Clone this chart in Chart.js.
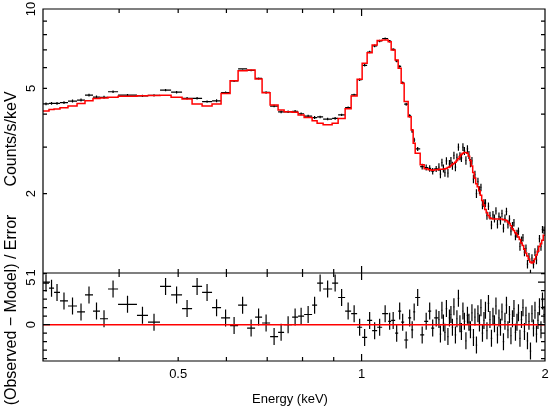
<!DOCTYPE html>
<html>
<head>
<meta charset="utf-8">
<title>Spectrum fit</title>
<script src="https://cdn.jsdelivr.net/npm/chart.js@4.4.1/dist/chart.umd.min.js"></script>
<style>
    html, body { margin: 0; padding: 0; background: #fff; }
    canvas { display: block; }
</style>
</head>
<body>
<canvas id="specChart" width="550" height="409"></canvas>
<script>
const ENERGY_MIN = 0.3;
const ENERGY_MAX = 2.0;

// channel edges (keV)
const binEdges = [
    0.3000, 0.3069, 0.3128, 0.3199, 0.3297, 0.3412, 0.3516, 0.3624, 0.3721, 0.3836,
    0.3984, 0.4279, 0.4461, 0.4669, 0.4868, 0.5074, 0.5270, 0.5473, 0.5683, 0.5880,
    0.6084, 0.6271, 0.6488, 0.6687, 0.6866, 0.7077, 0.7294, 0.7462, 0.7691, 0.7867,
    0.8048, 0.8295, 0.8453, 0.8647, 0.8947, 0.9152, 0.9397, 0.9613, 0.9833, 1.0021,
    1.0212, 1.0407, 1.0606, 1.0808, 1.1056, 1.1183, 1.1353, 1.1483, 1.1614, 1.1746,
    1.1925, 1.2061, 1.2153, 1.2245, 1.2479, 1.2669, 1.2862, 1.3009, 1.3157, 1.3357,
    1.3433, 1.3509, 1.3586, 1.3663, 1.3741, 1.3819, 1.3898, 1.3977, 1.4056, 1.4136,
    1.4216, 1.4297, 1.4378, 1.4460, 1.4542, 1.4625, 1.4708, 1.4792, 1.4876, 1.4961,
    1.5046, 1.5132, 1.5218, 1.5304, 1.5391, 1.5479, 1.5567, 1.5656, 1.5745, 1.5834,
    1.5924, 1.6015, 1.6106, 1.6198, 1.6290, 1.6383, 1.6476, 1.6569, 1.6664, 1.6758,
    1.6854, 1.6950, 1.7046, 1.7143, 1.7240, 1.7338, 1.7437, 1.7536, 1.7636, 1.7736,
    1.7837, 1.7938, 1.8040, 1.8143, 1.8246, 1.8350, 1.8454, 1.8559, 1.8665, 1.8771,
    1.8878, 1.8985, 1.9093, 1.9202, 1.9311, 1.9421, 1.9531, 1.9642, 1.9754, 1.9866,
    2.0000,
];

// observed rate per channel (counts/s/keV)
const counts = [
    4.37, 4.39, 4.39, 4.42, 4.48, 4.52, 4.72, 4.64, 4.63, 4.86,
    4.72, 4.69, 4.71, 4.93, 4.84, 4.59, 4.59, 4.46, 4.49, 4.82,
    5.34, 5.93, 5.85, 5.46, 4.83, 4.29, 4.08, 4.08, 4.10, 4.01,
    3.93, 3.88, 3.90, 3.83, 3.85, 3.97, 4.23, 4.73, 5.40, 6.12,
    6.87, 7.25, 7.57, 7.73, 7.55, 7.03, 6.36, 6.06, 5.25, 4.36,
    3.94, 3.45, 3.19, 2.95, 2.53, 2.51, 2.49, 2.43, 2.48,
    2.52, 2.37, 2.62, 2.49, 2.40, 2.66, 2.39, 2.59, 2.66, 2.55,
    2.79, 2.52, 2.74, 3.00, 2.77, 2.73, 3.00, 2.90, 2.67, 2.95,
    2.80, 2.61, 2.66, 2.27, 2.36, 2.00, 2.22, 2.06, 2.11, 1.81,
    1.84, 1.84, 1.65, 1.79, 1.65, 1.52, 1.66, 1.61, 1.72, 1.53,
    1.64, 1.58, 1.68, 1.48, 1.61, 1.71, 1.53, 1.60, 1.44, 1.51,
    1.55, 1.38, 1.41, 1.44, 1.26, 1.33, 1.36, 1.20, 1.24, 1.08,
    1.15, 0.99, 1.14, 1.08, 1.20, 1.12, 1.23, 1.35, 1.26, 1.46,
    1.45,
];

const countErr = [
    0.053, 0.055, 0.055, 0.057, 0.058, 0.060, 0.060, 0.062, 0.062, 0.055,
    0.042, 0.048, 0.045, 0.050, 0.050, 0.052, 0.050, 0.046, 0.060, 0.050,
    0.045, 0.040, 0.045, 0.048, 0.050, 0.045, 0.048, 0.045, 0.048, 0.048,
    0.045, 0.050, 0.045, 0.040, 0.045, 0.040, 0.045, 0.050, 0.060, 0.070,
    0.075, 0.080, 0.080, 0.075, 0.085, 0.075, 0.070, 0.065, 0.060, 0.055,
    0.055, 0.060, 0.060, 0.050, 0.065, 0.065, 0.070, 0.070, 0.065,
    0.086, 0.086, 0.086, 0.086, 0.087, 0.087, 0.088, 0.088, 0.089, 0.090,
    0.091, 0.092, 0.093, 0.095, 0.097, 0.098, 0.099, 0.100, 0.100, 0.099,
    0.097, 0.093, 0.089, 0.084, 0.080, 0.076, 0.074, 0.072, 0.069, 0.066,
    0.063, 0.061, 0.059, 0.058, 0.057, 0.056, 0.056, 0.056, 0.056, 0.056,
    0.056, 0.056, 0.056, 0.056, 0.056, 0.055, 0.055, 0.054, 0.053, 0.051,
    0.051, 0.050, 0.049, 0.048, 0.047, 0.046, 0.044, 0.043, 0.042, 0.041,
    0.040, 0.039, 0.038, 0.039, 0.040, 0.041, 0.042, 0.044, 0.045, 0.047,
    0.049,
];

// folded model per channel
const model = [
    4.11, 4.16, 4.18, 4.23, 4.29, 4.39, 4.49, 4.58, 4.60, 4.63,
    4.67, 4.69, 4.70, 4.71, 4.63, 4.56, 4.37, 4.29, 4.37, 4.79,
    5.35, 5.84, 5.87, 5.43, 4.82, 4.33, 4.14, 4.08, 4.06, 3.97,
    3.88, 3.77, 3.69, 3.64, 3.69, 3.85, 4.19, 4.68, 5.42, 6.23,
    6.83, 7.31, 7.59, 7.63, 7.52, 6.99, 6.41, 5.96, 5.23, 4.46,
    3.91, 3.48, 3.10, 2.84, 2.57, 2.48, 2.46, 2.45, 2.46,
    2.47, 2.47, 2.47, 2.47, 2.48, 2.49, 2.51, 2.52, 2.55, 2.58,
    2.60, 2.63, 2.67, 2.71, 2.76, 2.81, 2.84, 2.86, 2.86, 2.84,
    2.77, 2.67, 2.54, 2.40, 2.29, 2.18, 2.12, 2.05, 1.97, 1.88,
    1.81, 1.74, 1.69, 1.65, 1.62, 1.61, 1.60, 1.60, 1.60, 1.60,
    1.60, 1.60, 1.60, 1.59, 1.59, 1.58, 1.56, 1.54, 1.51, 1.47,
    1.45, 1.42, 1.40, 1.37, 1.34, 1.30, 1.27, 1.23, 1.19, 1.16,
    1.13, 1.10, 1.09, 1.10, 1.13, 1.17, 1.21, 1.26, 1.29, 1.33,
    1.39,
];

// (observed - model) / error
const resid = [
    4.9, 4.3, 3.8, 2.8, 2.2, 1.5, 3.5, 1.6, 0.7, 4.2,
    2.4, 1.1, 0.3, 4.5, 3.5, 1.9, 4.5, 3.8, 2.0, 0.8,
    -0.1, 2.3, -0.4, 0.9, 0.2, -1.4, -0.9, 0.0, 0.9, 1.0,
    1.2, 2.3, 4.9, 4.2, 4.9, 3.2, 1.6, 1.3, -0.3, -1.5,
    0.5, -0.7, -0.3, 1.3, 0.4, 0.5, -1.0, 1.6, 0.3, -1.8,
    0.8, -0.6, 1.5, 3.2, -1.2, 0.4, 1.6, -0.4, 0.8,
    0.6, -1.1, 1.7, 0.2, -0.9, 1.9, -1.4, 0.8, 1.2, -0.3,
    2.1, -1.2, 0.7, 3.1, 0.1, -0.8, 1.6, 0.4, -1.9, 1.1,
    0.3, -0.6, 1.4, -1.5, 0.9, -2.4, 1.3, 0.2, 2.0, -1.0,
    0.5, 1.7, -0.7, 2.5, 0.6, -1.6, 1.0, 0.1, 2.2, -1.2,
    0.8, -0.3, 1.5, -2.0, 0.4, 2.3, -0.6, 1.2, -1.3, 0.7,
    1.9, -0.9, 0.3, 1.4, -1.6, 0.6, 2.0, -0.8, 1.1, -1.9,
    0.4, -3.1, 1.3, -0.4, 1.7, -1.1, 0.5, 2.1, -0.6, 2.8,
    1.2,
];

const energyLabels = [0.5, 1, 2];
const energyMinor = [0.4, 0.6, 0.7, 0.8, 0.9];
const countLabels = [1, 2, 5, 10];
const countMinor = [2, 3, 4, 5, 6, 7, 8, 9];
const residLabels = [0, 5];
const residMinor = [-4, -3, -2, -1, 1, 2, 3, 4, 6];

const TICK_FONT = '13px "Liberation Sans", Arial, sans-serif';
const TITLE_FONT = '16px "Liberation Sans", Arial, sans-serif';

// horizontal bar over the channel + vertical error bar, split by gaps
function crossPoints(values, errs) {
    const pts = [];
    values.forEach((v, i) => {
        const lo = binEdges[i];
        const hi = binEdges[i + 1];
        const mid = Math.sqrt(lo * hi);
        const e = Array.isArray(errs) ? errs[i] : errs;
        pts.push({ x: lo, y: v }, { x: hi, y: v }, { x: mid, y: null });
        pts.push({ x: mid, y: v - e }, { x: mid, y: v + e }, { x: mid, y: null });
    });
    return pts;
}

function stepPoints(values) {
    const pts = values.map((v, i) => ({ x: binEdges[i], y: v }));
    pts.push({ x: binEdges[values.length], y: values[values.length - 1] });
    return pts;
}

function tickX(ctx, panel, px, len) {
    ctx.moveTo(px, panel.top);
    ctx.lineTo(px, panel.top + len);
    ctx.moveTo(px, panel.bottom);
    ctx.lineTo(px, panel.bottom - len);
}

function tickY(ctx, x, py, len) {
    ctx.moveTo(x.left, py);
    ctx.lineTo(x.left + len, py);
    ctx.moveTo(x.right, py);
    ctx.lineTo(x.right - len, py);
}

function vText(ctx, str, px, py) {
    ctx.save();
    ctx.translate(px, py);
    ctx.rotate(-Math.PI / 2);
    ctx.fillText(str, 0, 0);
    ctx.restore();
}

const axesFrame = {
    id: "axesFrame",
    afterDatasetsDraw(chart) {
        const { ctx } = chart;
        const { x, yCounts, yResid } = chart.scales;
        ctx.save();
        ctx.strokeStyle = "#000";
        ctx.lineWidth = 1.2;
        ctx.beginPath();
        [yCounts, yResid].forEach((panel) => {
            ctx.rect(x.left, panel.top, x.right - x.left, panel.bottom - panel.top);
            energyLabels.forEach((v) => tickX(ctx, panel, x.getPixelForValue(v), v === 1 ? 7 : 4));
            energyMinor.forEach((v) => tickX(ctx, panel, x.getPixelForValue(v), 4));
        });
        countMinor.forEach((v) => tickY(ctx, x, yCounts.getPixelForValue(v), 4));
        residMinor.forEach((v) => tickY(ctx, x, yResid.getPixelForValue(v), 4));
        residLabels.forEach((v) => tickY(ctx, x, yResid.getPixelForValue(v), 7));
        ctx.stroke();

        ctx.fillStyle = "#000";
        ctx.font = TICK_FONT;
        ctx.textAlign = "center";
        ctx.textBaseline = "top";
        energyLabels.forEach((v) => ctx.fillText(String(v), x.getPixelForValue(v), yResid.bottom + 7));
        ctx.textBaseline = "alphabetic";
        countLabels.forEach((v) => vText(ctx, String(v), 35, yCounts.getPixelForValue(v)));
        residLabels.forEach((v) => vText(ctx, String(v), 35, yResid.getPixelForValue(v)));

        ctx.textBaseline = "middle";
        ctx.fillText("Energy (keV)", (x.left + x.right) / 2 - 4, 399);
        ctx.font = TITLE_FONT;
        ctx.textBaseline = "alphabetic";
        vText(ctx, "Counts/s/keV", 16, 139);
        vText(ctx, "(Observed \u2212 Model) / Error", 16, 310);
        ctx.restore();
    },
};

function initSpectrumChart() {
    const canvas = document.getElementById("specChart");
    if (!canvas || !window.Chart) return;

    new Chart(canvas, {
        type: "line",
        data: {
            datasets: [
                {
                    label: "model",
                    data: stepPoints(model),
                    yAxisID: "yCounts",
                    stepped: "before",
                    borderColor: "#ff0000",
                    borderWidth: 1.5,
                    pointRadius: 0,
                    order: 0,
                },
                {
                    label: "data",
                    data: crossPoints(counts, countErr),
                    yAxisID: "yCounts",
                    borderColor: "#000",
                    borderWidth: 1.2,
                    pointRadius: 0,
                    order: 1,
                },
                {
                    label: "zero",
                    data: [{ x: ENERGY_MIN, y: 0 }, { x: ENERGY_MAX, y: 0 }],
                    yAxisID: "yResid",
                    borderColor: "#ff0000",
                    borderWidth: 1.5,
                    pointRadius: 0,
                    order: 0,
                },
                {
                    label: "residuals",
                    data: crossPoints(resid, 1),
                    yAxisID: "yResid",
                    borderColor: "#000",
                    borderWidth: 1.2,
                    pointRadius: 0,
                    order: 1,
                },
            ],
        },
        options: {
            responsive: false,
            animation: false,
            events: [],
            spanGaps: false,
            layout: { padding: { left: 43, right: 5, top: 9, bottom: 48 } },
            plugins: { legend: { display: false }, tooltip: { enabled: false } },
            scales: {
                x: { type: "logarithmic", min: ENERGY_MIN, max: ENERGY_MAX, display: false },
                yResid: {
                    type: "linear", min: -4.27, max: 6.08, display: false,
                    position: "left", stack: "panels", stackWeight: 88,
                },
                yCounts: {
                    type: "logarithmic", min: 1, max: 10, display: false,
                    position: "left", stack: "panels", stackWeight: 264,
                },
            },
        },
        plugins: [axesFrame],
    });
}

document.addEventListener("DOMContentLoaded", initSpectrumChart);
</script>
</body>
</html>
